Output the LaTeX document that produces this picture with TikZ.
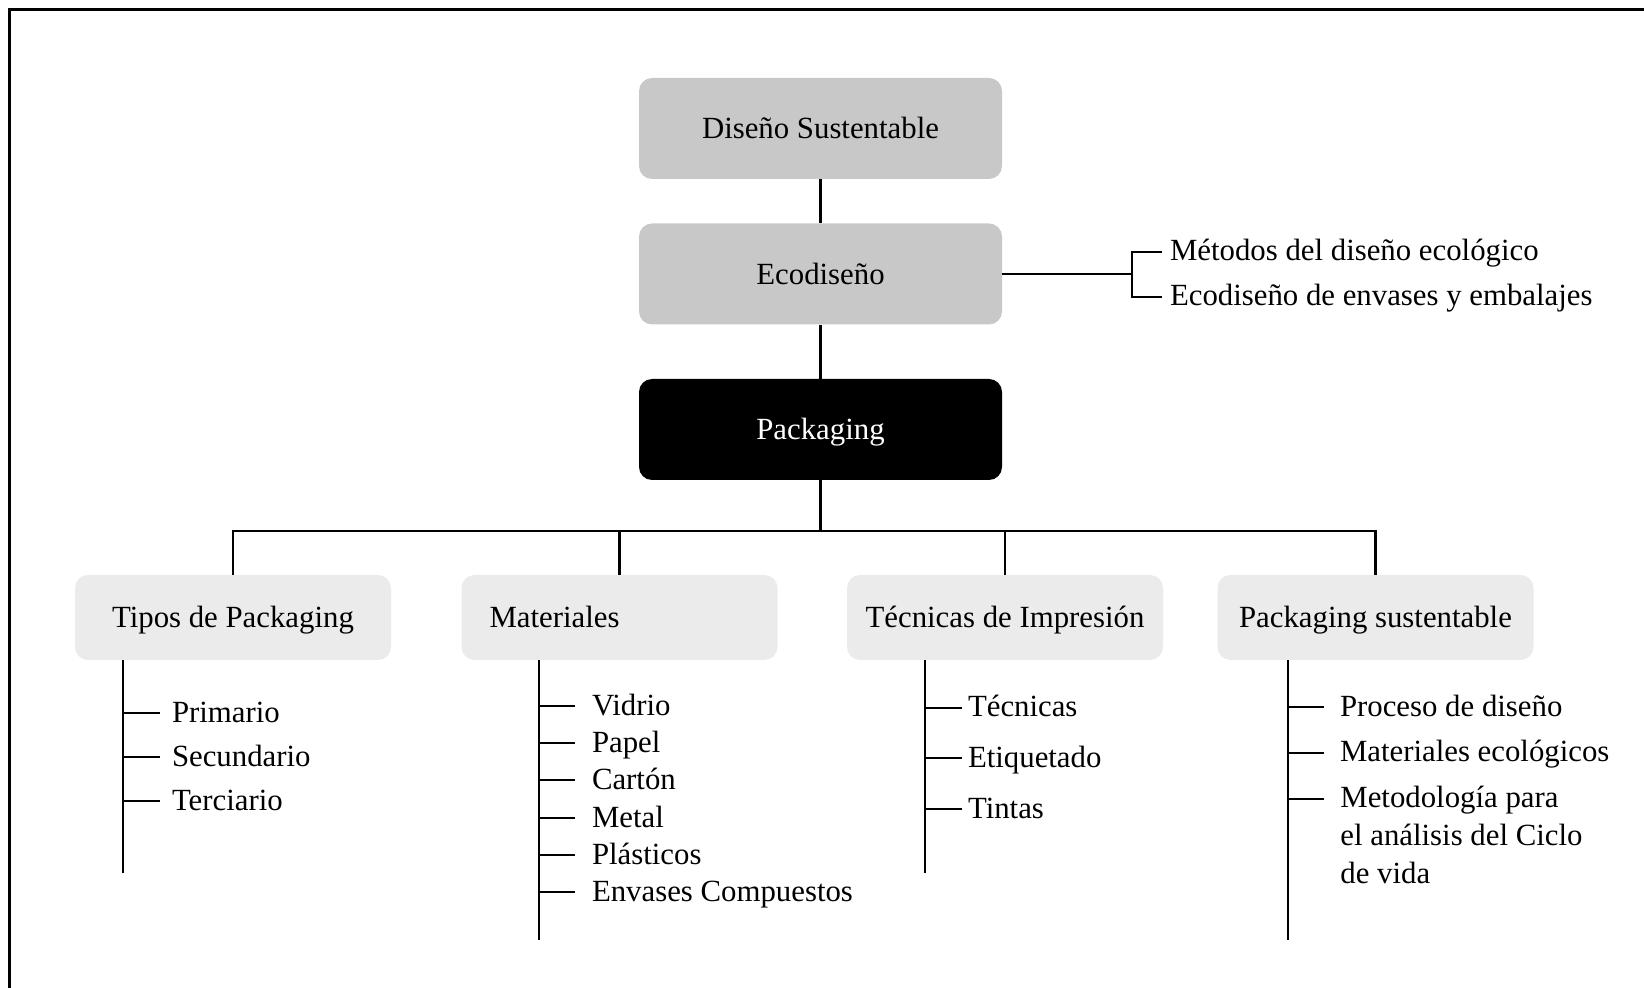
\documentclass[tikz,border=0pt]{standalone}
\usepackage{fontspec}
\setmainfont{Liberation Serif}
\begin{document}
% one unit = one pixel of a 1644 x 988 canvas, y grows downwards
\begin{tikzpicture}[x=0.5pt,y=-0.5pt,
  font=\fontsize{15.4}{18.9}\selectfont,
  conn/.style={line width=1.25pt,draw=black},
  frame/.style={line width=1.5pt,draw=black},
  mainbox/.style={rounded corners=6.5pt,minimum width=181.5pt,minimum height=50.5pt,
    inner sep=0pt,text height=10.2pt,text depth=0pt},
  greybox/.style={mainbox,fill=boxgrey},
  darkbox/.style={mainbox,fill=black,text=white},
  subbox/.style={rounded corners=6.5pt,fill=boxlight,minimum width=158pt,minimum height=42.5pt,
    inner sep=0pt,text height=10.2pt,text depth=0pt},
  leaf/.style={anchor=west,inner sep=0pt,text height=9pt,text depth=0pt,outer xsep=#1},
  leaf/.default=3pt
]
\definecolor{boxgrey}{HTML}{C8C8C8}
\definecolor{boxlight}{HTML}{EBEBEB}
\useasboundingbox (0,0) rectangle (1644,988);

% outer frame (top and left edges)
\draw[frame] (1644,10) -- (9,10) -- (9,988);

% main column
\node[greybox] (dis) at (820.5,128.5) {Diseño Sustentable};
\node[greybox] (eco) at (820.5,274) {Ecodiseño};
\node[darkbox] (pack) at (820.5,429.5) {Packaging};
\draw[conn] (dis.south) -- (eco.north);
\draw[conn] (eco.south) -- (pack.north);

% Ecodiseño branches
\coordinate (brk) at (1132,274);
\node[leaf=4pt] (m1) at (1162,252) {Métodos del diseño ecológico};
\node[leaf=4pt] (m2) at (1162,297) {Ecodiseño de envases y embalajes};
\draw[conn] (eco.east) -- (brk);
\draw[conn] (m1.west) -- (m1.west -| brk) -- (m2.west -| brk) -- (m2.west);

% second level
\node[subbox] (tip) at (233,617.5) {Tipos de Packaging};
\node[subbox,text width=130pt,align=left,inner xsep=14pt] (mat) at (619.5,617.5) {Materiales};
\node[subbox] (tec) at (1005,617.5) {Técnicas de Impresión};
\node[subbox] (sus) at (1375.5,617.5) {Packaging sustentable};
\coordinate (bus) at (820.5,531);
\draw[conn] (pack.south) -- (bus);
\draw[conn] (tip.north) |- (bus) -| (sus.north);
\draw[conn] (mat.north) -- (mat.north |- bus);
\draw[conn] (tec.north) -- (tec.north |- bus);

% Tipos de Packaging
\coordinate (tipEnd) at (123,873);
\draw[conn] (tip.south -| tipEnd) -- (tipEnd);
\node[leaf=6pt] (t1) at (160,713) {Primario};
\node[leaf=6pt] (t2) at (160,757) {Secundario};
\node[leaf=6pt] (t3) at (160,801) {Terciario};
\foreach \n in {t1,t2,t3} \draw[conn] (\n.west) -- (\n.west -| tipEnd);

% Materiales
\coordinate (matEnd) at (539,940);
\draw[conn] (mat.south -| matEnd) -- (matEnd);
\node[leaf=8.5pt] (a1) at (575,706) {Vidrio};
\node[leaf=8.5pt] (a2) at (575,743) {Papel};
\node[leaf=8.5pt] (a3) at (575,780) {Cartón};
\node[leaf=8.5pt] (a4) at (575,818) {Metal};
\node[leaf=8.5pt] (a5) at (575,855) {Plásticos};
\node[leaf=8.5pt] (a6) at (575,892) {Envases Compuestos};
\foreach \n in {a1,a2,a3,a4,a5,a6} \draw[conn] (\n.west) -- (\n.west -| matEnd);

% Técnicas de Impresión
\coordinate (tecEnd) at (925,873);
\draw[conn] (tec.south -| tecEnd) -- (tecEnd);
\node[leaf=3pt] (c1) at (962,708) {Técnicas};
\node[leaf=3pt] (c2) at (962,758) {Etiquetado};
\node[leaf=3pt] (c3) at (962,809) {Tintas};
\foreach \n in {c1,c2,c3} \draw[conn] (\n.west) -- (\n.west -| tecEnd);

% Packaging sustentable
\coordinate (susEnd) at (1288,940);
\draw[conn] (sus.south -| susEnd) -- (susEnd);
\node[leaf=8pt] (s1) at (1324,707) {Proceso de diseño};
\node[leaf=8pt] (s2) at (1324,753) {Materiales ecológicos};
\draw[conn] (s1.west) -- (s1.west -| susEnd);
\draw[conn] (s2.west) -- (s2.west -| susEnd);
\coordinate (s3tick) at (1288,799);
\node[anchor=base west,inner sep=0pt,align=left] (s3) at (1340,883)
  {Metodología para\\el análisis del Ciclo\\de vida};
\draw[conn] (s3tick) -- (s3tick -| 1324,0);
\end{tikzpicture}
\end{document}
